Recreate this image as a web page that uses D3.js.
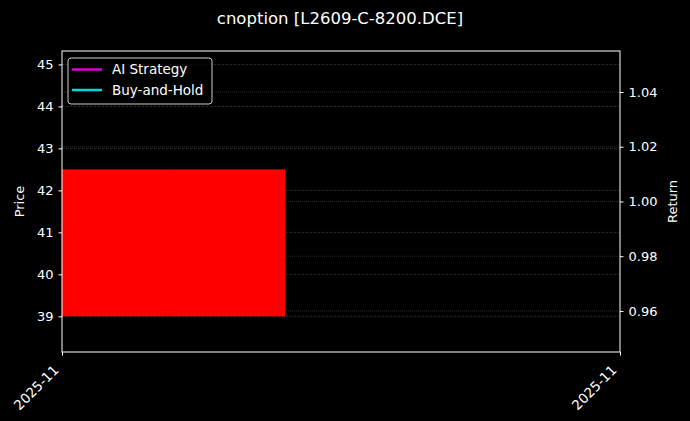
<!DOCTYPE html>
<html>
<head>
<meta charset="utf-8">
<script src="https://cdn.jsdelivr.net/npm/d3@7"></script>
<style>
  html, body { margin: 0; padding: 0; background: #000; }
  svg { display: block; }
</style>
</head>
<body>
<div id="chart"></div>
<script>
// Data
const candleDates = ['2025-11-03'];
const candleOpen = [42.5];
const candleClose = [39.0];
const candleHigh = [42.5];
const candleLow = [39.0];
const candleWidthDays = 0.8;
const xRangeDates = ['2025-11-03', '2025-11-05'];
const xTickLabels = ['2025-11', '2025-11'];
const priceTicks = [39, 40, 41, 42, 43, 44, 45];
const priceDomain = [38.15, 45.32];
const returnTicks = [0.96, 0.98, 1.00, 1.02, 1.04];
const returnDomain = [0.945, 1.055];
const legendNames = ['AI Strategy', 'Buy-and-Hold'];
const legendColors = ['#ff00ff', '#00ffff'];

const W = 690, H = 421;
const m = { left: 62, right: 70, top: 51, bottom: 69 };
const FONT = 'DejaVu Sans, sans-serif';

const svg = d3.select('#chart').append('svg')
  .attr('width', W).attr('height', H)
  .style('background', '#000');

const parse = d3.utcParse('%Y-%m-%d');
const x = d3.scaleUtc()
  .domain(xRangeDates.map(parse))
  .range([m.left, W - m.right]);
const y = d3.scaleLinear().domain(priceDomain).range([H - m.bottom, m.top]);
const y2 = d3.scaleLinear().domain(returnDomain).range([H - m.bottom, m.top]);

// Grid lines
const grid = svg.append('g');
priceTicks.forEach(t => {
  grid.append('line')
    .attr('x1', m.left).attr('x2', W - m.right)
    .attr('y1', y(t)).attr('y2', y(t))
    .attr('stroke', '#4a4a4a').attr('stroke-width', 0.6)
    .attr('stroke-dasharray', '2.5,1.5');
});
returnTicks.forEach(t => {
  grid.append('line')
    .attr('x1', m.left).attr('x2', W - m.right)
    .attr('y1', y2(t)).attr('y2', y2(t))
    .attr('stroke', '#4a4a4a').attr('stroke-width', 0.6)
    .attr('stroke-dasharray', '1,1');
});

// Candles
const dayMs = 24 * 3600 * 1000;
candleDates.forEach((d, i) => {
  const t0 = parse(d);
  const t1 = new Date(t0.getTime() + candleWidthDays * dayMs);
  const up = candleClose[i] >= candleOpen[i];
  const color = up ? '#00c000' : '#ff0000';
  const xc = (x(t0) + x(t1)) / 2;
  svg.append('line')
    .attr('x1', xc).attr('x2', xc)
    .attr('y1', y(candleHigh[i])).attr('y2', y(candleLow[i]))
    .attr('stroke', color);
  svg.append('rect')
    .attr('x', x(t0)).attr('width', x(t1) - x(t0))
    .attr('y', y(Math.max(candleOpen[i], candleClose[i])))
    .attr('height', Math.abs(y(candleOpen[i]) - y(candleClose[i])))
    .attr('fill', color);
});

// Frame
svg.append('rect')
  .attr('x', m.left).attr('y', m.top)
  .attr('width', W - m.left - m.right).attr('height', H - m.top - m.bottom)
  .attr('fill', 'none').attr('stroke', '#fff').attr('stroke-width', 1);

// Axes
const styleAxis = g => {
  g.select('.domain').remove();
  g.selectAll('.tick line').attr('stroke', '#fff');
  g.selectAll('.tick text').attr('fill', '#fff')
    .attr('font-family', FONT).attr('font-size', 13);
};

svg.append('g')
  .attr('transform', `translate(${m.left},0)`)
  .call(d3.axisLeft(y).tickValues(priceTicks).tickSize(3.5).tickPadding(5).tickFormat(d3.format('d')))
  .call(styleAxis);

svg.append('g')
  .attr('transform', `translate(${W - m.right},0)`)
  .call(d3.axisRight(y2).tickValues(returnTicks).tickSize(3.5).tickPadding(5).tickFormat(d3.format('.2f')))
  .call(styleAxis);

const xAxis = svg.append('g')
  .attr('transform', `translate(0,${H - m.bottom})`)
  .call(d3.axisBottom(x).tickValues(xRangeDates.map(parse)).tickSize(3.5)
    .tickFormat((d, i) => xTickLabels[i]))
  .call(styleAxis);
xAxis.selectAll('.tick text')
  .attr('text-anchor', 'end')
  .attr('dy', null).attr('y', 0)
  .attr('font-size', 13.5)
  .attr('transform', 'translate(-3,19) rotate(-45)');

// Axis labels
svg.append('text')
  .attr('transform', `translate(24,${(m.top + H - m.bottom) / 2}) rotate(-90)`)
  .attr('text-anchor', 'middle').attr('fill', '#fff')
  .attr('font-family', FONT).attr('font-size', 13).text('Price');
svg.append('text')
  .attr('transform', `translate(677,${(m.top + H - m.bottom) / 2}) rotate(-90)`)
  .attr('text-anchor', 'middle').attr('fill', '#fff')
  .attr('font-family', FONT).attr('font-size', 13).text('Return');

// Title
svg.append('text')
  .attr('x', 340).attr('y', 24)
  .attr('text-anchor', 'middle').attr('fill', '#fff')
  .attr('font-family', FONT).attr('font-size', 16.5)
  .text('cnoption [L2609-C-8200.DCE]');

// Legend
const lg = svg.append('g').attr('transform', `translate(${m.left + 6},${m.top + 7})`);
lg.append('rect')
  .attr('width', 144).attr('height', 46).attr('rx', 3)
  .attr('fill', '#000').attr('fill-opacity', 0.8)
  .attr('stroke', '#ccc').attr('stroke-width', 1);
legendNames.forEach((name, i) => {
  const ly = 11.5 + i * 20.5;
  lg.append('line')
    .attr('x1', 4).attr('x2', 34).attr('y1', ly).attr('y2', ly)
    .attr('stroke', legendColors[i]).attr('stroke-width', 2.5).attr('stroke-opacity', 0.85);
  lg.append('text')
    .attr('x', 44).attr('y', ly).attr('dy', '0.35em')
    .attr('fill', '#fff').attr('font-family', FONT).attr('font-size', 13.5)
    .text(name);
});
</script>
</body>
</html>
